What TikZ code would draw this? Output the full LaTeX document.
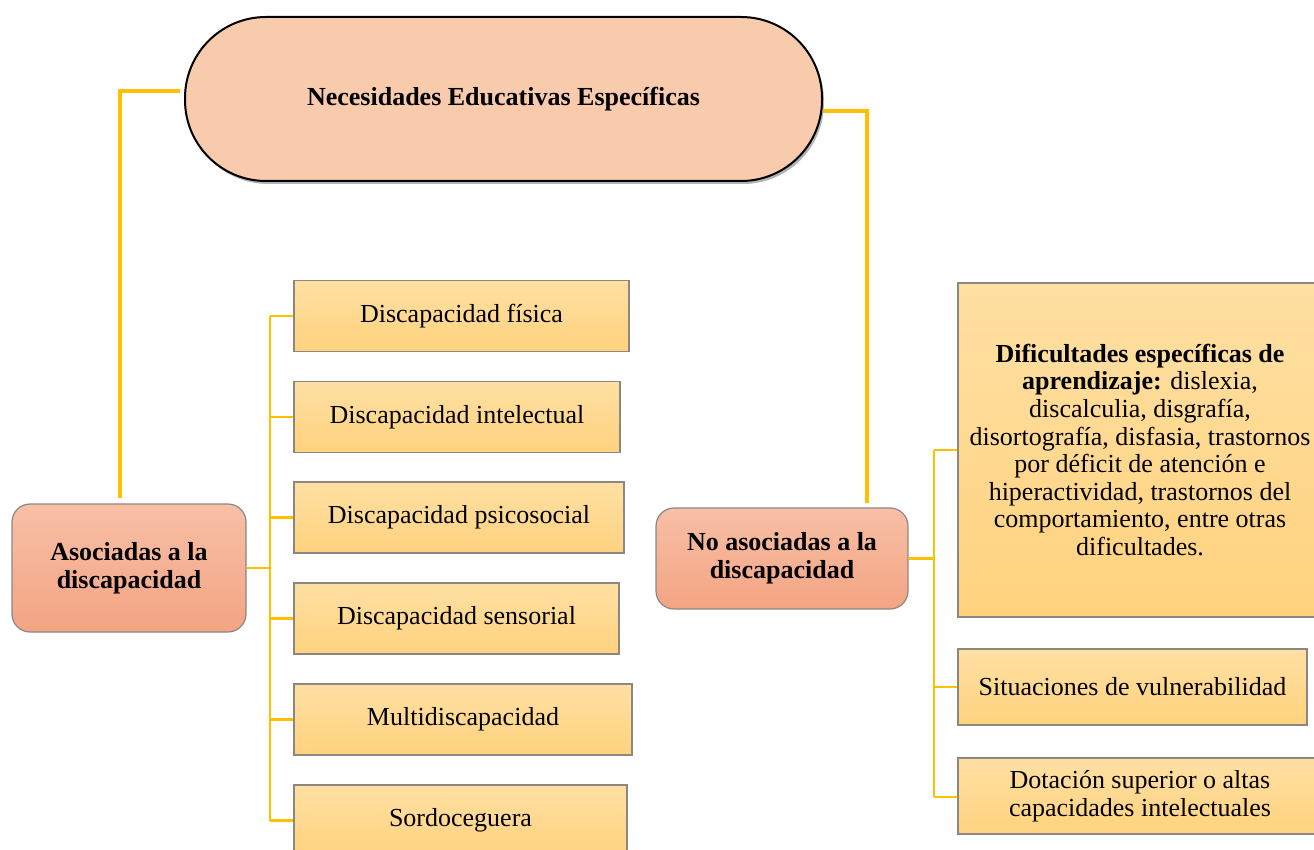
\documentclass[tikz,border=0pt]{standalone}
\usepackage{fontspec}
\setmainfont{Liberation Serif}
\usetikzlibrary{shadows}
\definecolor{pill}{HTML}{F8CBAD}
\definecolor{cattop}{HTML}{F7BFA6}
\definecolor{catbot}{HTML}{F4A483}
\definecolor{leaftop}{HTML}{FFE0A3}
\definecolor{leafbot}{HTML}{FFD27E}
\definecolor{conn}{HTML}{FFC000}
\definecolor{edge}{HTML}{8C8780}
\tikzset{
  txt/.style={font=\fontsize{26}{27.6}\selectfont, align=center, inner sep=0pt},
  pillbox/.style={txt, font=\fontsize{26}{27.6}\selectfont\bfseries, draw=black, line width=2pt, fill=pill,
    rounded corners=81pt, minimum width=637pt, minimum height=164pt,
    drop shadow={shadow xshift=2pt, shadow yshift=-3pt, opacity=0.6}},
  catbox/.style={txt, font=\fontsize{26}{27.6}\selectfont\bfseries, draw=edge, line width=1.2pt,
    top color=cattop, bottom color=catbot, rounded corners=18pt},
  leafbox/.style={txt, draw=edge, line width=1.2pt, top color=leaftop, bottom color=leafbot},
  link/.style={draw=conn, line width=3.5pt},
  branch/.style={draw=conn, line width=2.8pt},
}
\begin{document}
\begin{tikzpicture}[x=1pt,y=-1pt]
\useasboundingbox (0,0) rectangle (1314,850);
% top
\node[pillbox] (top) at (503.5,99) {Necesidades Educativas Específicas};
% categories
\node[catbox, minimum width=234pt, minimum height=128pt] (aso) at (129,568) {Asociadas a la\\discapacidad};
\node[catbox, minimum width=252pt, minimum height=101pt] (noaso) at (782,558.5) {No asociadas a la\\discapacidad};
% left leaves
\node[leafbox, minimum width=335pt, minimum height=71pt] (l1) at (461.5,316) {Discapacidad física};
\node[leafbox, minimum width=326pt, minimum height=71pt] (l2) at (457,417) {Discapacidad intelectual};
\node[leafbox, minimum width=330pt, minimum height=71pt] (l3) at (459,517.5) {Discapacidad psicosocial};
\node[leafbox, minimum width=325pt, minimum height=71pt] (l4) at (456.5,618.5) {Discapacidad sensorial};
\node[leafbox, minimum width=338pt, minimum height=71pt] (l5) at (463,719.5) {Multidiscapacidad};
\node[leafbox, minimum width=333pt, minimum height=71pt] (l6) at (460.5,820.5) {Sordoceguera};
% right leaves
\node[leafbox, minimum width=364pt, minimum height=334pt] (r1) at (1140,450)
  {\textbf{Dificultades específicas de}\\\textbf{aprendizaje:} dislexia,\\discalculia, disgrafía,\\disortografía, disfasia, trastornos\\por déficit de atención e\\hiperactividad, trastornos del\\comportamiento, entre otras\\dificultades.};
\node[leafbox, minimum width=349pt, minimum height=76pt] (r2) at (1132.5,687) {Situaciones de vulnerabilidad};
\node[leafbox, minimum width=364pt, minimum height=76pt] (r3) at (1140,796) {Dotación superior o altas\\capacidades intelectuales};
% connectors top
\draw[link] (top.west |- 0,91) ++(-4,0) -- (120,91) -- (120,498) coordinate (aend);
\draw[link] (top.east |- 0,111) -- (867,111) -- (867,503) coordinate (nend);
% left trunk
\draw[branch] (aso.east) -- (270,568);
\draw[branch] (270,316) -- (270,821);
\foreach \n in {l1,l2,l3,l4,l5,l6}{
  \draw[branch] (270,0 |- \n.west) -- (\n.west);
}
% right trunk
\draw[branch] (noaso.east) -- (934,558.5);
\draw[branch] (934,450) -- (934,797);
\draw[branch] (934,450) -- (r1.west |- 0,450);
\draw[branch] (934,687) -- (r2.west);
\draw[branch] (934,797) -- (r3.west |- 0,797);
\end{tikzpicture}
\end{document}
